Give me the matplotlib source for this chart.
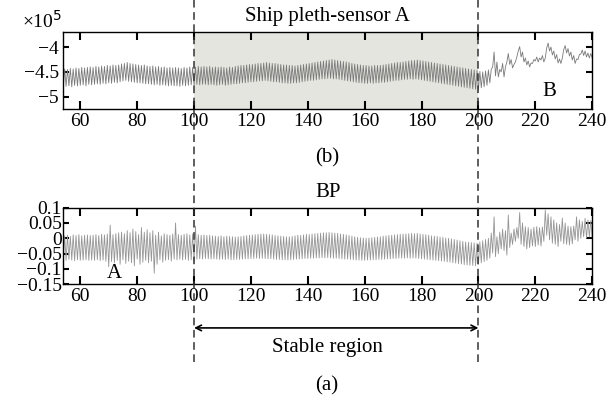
import numpy as np
import matplotlib.pyplot as plt
from matplotlib.lines import Line2D
from matplotlib.transforms import blended_transform_factory

plt.rcParams['font.family'] = ['Liberation Serif', 'DejaVu Serif']

# one beat per second, starting at t = 54 s
T_START = 54

# Ship pleth-sensor A, peaks and troughs of each beat (x 1e5)
pleth_hi = [
    -4.44, -4.45, -4.43, -4.44, -4.42, -4.43, -4.41, -4.42, -4.41, -4.40,
    -4.41, -4.39, -4.40, -4.38, -4.39, -4.37, -4.38, -4.36, -4.37, -4.36,
    -4.34, -4.33, -4.31, -4.33, -4.34, -4.35, -4.36, -4.37, -4.36, -4.38,
    -4.39, -4.38, -4.40, -4.39, -4.41, -4.40, -4.42, -4.41, -4.42, -4.41,
    -4.42, -4.43, -4.41, -4.42, -4.40, -4.41, -4.40, -4.39, -4.40, -4.39,
    -4.40, -4.39, -4.41, -4.40, -4.41, -4.40, -4.41, -4.42, -4.40, -4.41,
    -4.39, -4.38, -4.37, -4.37, -4.36, -4.35, -4.35, -4.34, -4.33, -4.33,
    -4.32, -4.31, -4.32, -4.33, -4.33, -4.34, -4.35, -4.36, -4.36, -4.37,
    -4.37, -4.38, -4.37, -4.36, -4.35, -4.34, -4.33, -4.32, -4.31, -4.30,
    -4.29, -4.28, -4.27, -4.26, -4.25, -4.26, -4.27, -4.28, -4.29, -4.30,
    -4.31, -4.33, -4.34, -4.35, -4.36, -4.37, -4.37, -4.38, -4.38, -4.37,
    -4.37, -4.37, -4.36, -4.35, -4.34, -4.33, -4.32, -4.31, -4.31, -4.30,
    -4.29, -4.28, -4.27, -4.27, -4.26, -4.27, -4.28, -4.29, -4.30, -4.31,
    -4.32, -4.33, -4.34, -4.35, -4.36, -4.37, -4.38, -4.39, -4.40, -4.41,
    -4.42, -4.43, -4.44, -4.45, -4.46, -4.47, -4.49, -4.50, -4.48, -4.46,
    -4.45, -4.10, -4.30, -4.45, -4.33, -4.40, -4.13, -4.25, -4.35, -4.20,
    -3.99, -4.10, -4.22, -4.28, -4.32, -4.25, -4.20, -4.22, -4.17, -4.22,
    -3.92, -4.00, -4.08, -4.15, -4.24, -4.22, -3.97, -4.03, -4.10, -4.17,
    -4.24, -4.15, -4.06, -4.08, -4.12, -4.13, -4.15,
]
pleth_lo = [
    -4.80, -4.79, -4.78, -4.80, -4.77, -4.78, -4.77, -4.76, -4.78, -4.75,
    -4.76, -4.75, -4.74, -4.75, -4.73, -4.74, -4.72, -4.73, -4.71, -4.72,
    -4.70, -4.68, -4.67, -4.69, -4.70, -4.71, -4.72, -4.72, -4.73, -4.74,
    -4.74, -4.75, -4.76, -4.75, -4.77, -4.76, -4.77, -4.78, -4.77, -4.78,
    -4.78, -4.79, -4.77, -4.78, -4.77, -4.76, -4.77, -4.75, -4.76, -4.75,
    -4.75, -4.76, -4.75, -4.76, -4.77, -4.76, -4.75, -4.77, -4.76, -4.75,
    -4.74, -4.74, -4.73, -4.72, -4.72, -4.71, -4.70, -4.70, -4.69, -4.68,
    -4.68, -4.67, -4.68, -4.69, -4.70, -4.70, -4.71, -4.72, -4.72, -4.73,
    -4.73, -4.72, -4.72, -4.71, -4.70, -4.69, -4.68, -4.67, -4.67, -4.66,
    -4.65, -4.64, -4.64, -4.63, -4.63, -4.64, -4.64, -4.65, -4.66, -4.67,
    -4.68, -4.69, -4.70, -4.71, -4.72, -4.72, -4.73, -4.73, -4.72, -4.73,
    -4.72, -4.72, -4.71, -4.71, -4.70, -4.69, -4.68, -4.67, -4.67, -4.66,
    -4.65, -4.65, -4.64, -4.65, -4.64, -4.65, -4.66, -4.67, -4.68, -4.69,
    -4.70, -4.71, -4.72, -4.73, -4.74, -4.75, -4.76, -4.77, -4.78, -4.79,
    -4.80, -4.81, -4.82, -4.83, -4.84, -4.85, -4.86, -4.82, -4.80, -4.77,
    -4.72, -4.40, -4.58, -4.60, -4.50, -4.60, -4.30, -4.35, -4.42, -4.30,
    -4.08, -4.20, -4.30, -4.36, -4.40, -4.33, -4.28, -4.30, -4.26, -4.30,
    -4.02, -4.08, -4.16, -4.24, -4.32, -4.33, -4.05, -4.12, -4.18, -4.26,
    -4.33, -4.25, -4.14, -4.17, -4.20, -4.22, -4.22,
]

# BP, peaks and troughs of each beat
bp_hi = [
    0.008, 0.010, 0.006, 0.011, 0.009, 0.012, 0.008, 0.010, 0.011, 0.009,
    0.010, 0.012, 0.009, 0.013, 0.011, 0.014, 0.043, 0.012, 0.015, 0.018,
    0.020, 0.015, 0.025, 0.018, 0.030, 0.022, 0.012, 0.035, 0.020, 0.028,
    0.018, 0.025, 0.010, 0.020, 0.008, 0.015, 0.012, 0.010, 0.014, 0.050,
    0.012, 0.010, 0.013, 0.015, 0.011, 0.014, 0.040, 0.012, 0.010, 0.011,
    0.009, 0.010, 0.008, 0.007, 0.006, 0.008, 0.005, 0.007, 0.006, 0.005,
    0.004, 0.005, 0.006, 0.008, 0.009, 0.010, 0.011, 0.012, 0.013, 0.014,
    0.014, 0.013, 0.012, 0.011, 0.009, 0.008, 0.007, 0.006, 0.005, 0.005,
    0.006, 0.008, 0.010, 0.009, 0.011, 0.013, 0.012, 0.014, 0.015, 0.016,
    0.017, 0.018, 0.018, 0.019, 0.018, 0.017, 0.016, 0.014, 0.013, 0.011,
    0.009, 0.007, 0.005, 0.003, 0.002, 0.001, 0.000, 0.001, 0.002, 0.003,
    0.004, 0.005, 0.007, 0.008, 0.009, 0.010, 0.011, 0.012, 0.013, 0.014,
    0.014, 0.015, 0.016, 0.015, 0.016, 0.014, 0.013, 0.012, 0.010, 0.008,
    0.007, 0.006, 0.004, 0.003, 0.001, 0.000, -0.002, -0.004, -0.006, -0.008,
    -0.010, -0.012, -0.013, -0.014, -0.015, -0.016, -0.012, -0.008, -0.004, 0.000,
    0.017, 0.070, 0.005, 0.020, 0.030, 0.025, 0.076, 0.017, 0.030, 0.035,
    0.084, 0.050, 0.038, 0.035, 0.030, 0.036, 0.038, 0.035, 0.037, 0.092,
    0.080, 0.070, 0.060, 0.050, 0.045, 0.066, 0.050, 0.040, 0.038, 0.040,
    0.070, 0.060, 0.055, 0.065, 0.060, 0.058, 0.055,
]
bp_lo = [
    -0.070, -0.072, -0.069, -0.071, -0.073, -0.070, -0.072, -0.071, -0.070, -0.072,
    -0.071, -0.072, -0.070, -0.073, -0.071, -0.075, -0.093, -0.076, -0.080, -0.072,
    -0.085, -0.070, -0.082, -0.075, -0.080, -0.090, -0.068, -0.085, -0.078, -0.072,
    -0.080, -0.075, -0.114, -0.085, -0.070, -0.078, -0.072, -0.070, -0.075, -0.068,
    -0.070, -0.068, -0.071, -0.069, -0.072, -0.070, -0.075, -0.068, -0.067, -0.068,
    -0.066, -0.067, -0.068, -0.067, -0.068, -0.069, -0.068, -0.069, -0.068, -0.070,
    -0.070, -0.069, -0.069, -0.068, -0.067, -0.067, -0.066, -0.066, -0.065, -0.066,
    -0.065, -0.066, -0.067, -0.067, -0.068, -0.069, -0.069, -0.070, -0.070, -0.071,
    -0.070, -0.069, -0.068, -0.068, -0.067, -0.066, -0.066, -0.065, -0.065, -0.064,
    -0.064, -0.063, -0.064, -0.063, -0.064, -0.065, -0.065, -0.066, -0.067, -0.068,
    -0.068, -0.069, -0.070, -0.071, -0.071, -0.072, -0.072, -0.071, -0.071, -0.070,
    -0.070, -0.069, -0.069, -0.068, -0.067, -0.067, -0.066, -0.066, -0.065, -0.065,
    -0.065, -0.064, -0.065, -0.064, -0.065, -0.066, -0.067, -0.068, -0.069, -0.070,
    -0.071, -0.072, -0.073, -0.074, -0.075, -0.077, -0.078, -0.080, -0.081, -0.083,
    -0.084, -0.086, -0.087, -0.088, -0.089, -0.090, -0.085, -0.080, -0.076, -0.072,
    -0.065, -0.048, -0.060, -0.050, -0.035, -0.040, -0.055, -0.030, -0.020, -0.010,
    0.000, -0.020, -0.027, -0.035, -0.030, -0.025, -0.027, -0.022, -0.025, -0.010,
    0.010, -0.005, -0.016, -0.020, -0.027, -0.010, -0.018, -0.020, -0.022, -0.018,
    -0.005, -0.010, 0.000, 0.005, 0.000, 0.005, 0.003,
]

x_ticks = [60, 80, 100, 120, 140, 160, 180, 200, 220, 240]
pleth_ticks = [-5, -4.5, -4]
pleth_tick_labels = ["\u22125", "\u22124.5", "\u22124"]
bp_ticks = [-0.15, -0.1, -0.05, 0, 0.05, 0.1]
bp_tick_labels = ["\u22120.15", "\u22120.1", "\u22120.05", "0", "0.05", "0.1"]
stable = (100, 200)

TICK_FS = 14
TEXT_FS = 15


def beat_trace(hi, lo):
    # trough at the start of each second, peak half a second later
    t = T_START + np.arange(len(hi))
    x = np.empty(2 * len(hi))
    y = np.empty(2 * len(hi))
    x[0::2] = t
    x[1::2] = t + 0.5
    y[0::2] = lo
    y[1::2] = hi
    return x, y


def style_axes(ax):
    ax.set_xlim(54, 240)
    ax.set_xticks(x_ticks)
    ax.tick_params(direction='in', top=True, right=True, labelsize=TICK_FS,
                   width=1.5, pad=3)
    ax.tick_params(axis='x', length=6)
    ax.tick_params(axis='y', length=4)
    for s in ax.spines.values():
        s.set_linewidth(1.0)


fig = plt.figure(figsize=(6.08, 3.97), dpi=100)
ax_top = fig.add_axes([0.104, 0.725, 0.870, 0.194])
ax_bot = fig.add_axes([0.104, 0.284, 0.870, 0.193])

# top: pleth sensor
x, y = beat_trace(pleth_hi, pleth_lo)
ax_top.axvspan(stable[0], stable[1], color='#e5e5df', lw=0, zorder=0)
ax_top.plot(x, y, color='#7a7a7a', lw=0.6)
style_axes(ax_top)
ax_top.set_ylim(-5.25, -3.7)
ax_top.set_yticks(pleth_ticks)
ax_top.set_yticklabels(pleth_tick_labels)
ax_top.set_title("Ship pleth-sensor A", fontsize=TEXT_FS, pad=8)
ax_top.text(225, -4.9, "B", fontsize=TEXT_FS, ha='center', va='center')
fig.text(0.036, 0.948, "\u00d710$^5$", fontsize=TICK_FS, va='center')

# bottom: BP
x, y = beat_trace(bp_hi, bp_lo)
ax_bot.plot(x, y, color='#959595', lw=0.6)
style_axes(ax_bot)
ax_bot.set_ylim(-0.15, 0.1)
ax_bot.set_yticks(bp_ticks)
ax_bot.set_yticklabels(bp_tick_labels)
ax_bot.tick_params(axis='y', pad=1)
ax_bot.set_title("BP", fontsize=TEXT_FS, pad=8)
ax_bot.text(72, -0.115, "A", fontsize=TEXT_FS, ha='center', va='center')

fig.text(0.538, 0.602, "(b)", fontsize=TEXT_FS, ha='center', va='center')
fig.text(0.538, 0.028, "(a)", fontsize=TEXT_FS, ha='center', va='center')

# dashed lines marking the stable region across both panels
trans = blended_transform_factory(ax_bot.transData, fig.transFigure)
for xv in stable:
    fig.add_artist(Line2D([xv, xv], [0.088, 1.0], transform=trans,
                          color='#333333', lw=1.1, ls=(0, (5, 3))))

ax_bot.annotate("", xy=(stable[1], 0.174), xytext=(stable[0], 0.174),
                xycoords=('data', 'figure fraction'),
                textcoords=('data', 'figure fraction'),
                arrowprops=dict(arrowstyle='<->', color='black', lw=1.2,
                                shrinkA=0, shrinkB=0))
fig.text(0.538, 0.125, "Stable region", fontsize=TEXT_FS, ha='center', va='center')

fig.savefig("out.png", dpi=100)
